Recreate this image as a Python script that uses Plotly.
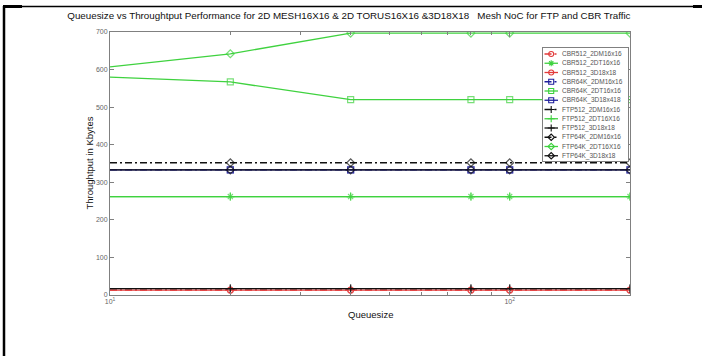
import math
import plotly.graph_objects as go

# Queue sizes (x axis, log scale)
queue = [10, 20, 40, 80, 100, 200]

# Throughput in Kbytes per configuration
cbr512_2dm16 = [13, 13, 13, 13, 13, 13]
cbr512_2dt16 = [262, 262, 262, 262, 262, 262]
cbr512_3d18 = [13, 13, 13, 13, 13, 13]
cbr64k_2dm16 = [333, 333, 333, 333, 333, 333]
cbr64k_2dt16 = [580, 567, 520, 520, 520, 520]
cbr64k_3d18 = [333, 333, 333, 333, 333, 333]
ftp512_2dm16 = [17, 17, 17, 17, 17, 17]
ftp512_2dt16 = [262, 262, 262, 262, 262, 262]
ftp512_3d18 = [17, 17, 17, 17, 17, 17]
ftp64k_2dm16 = [352, 352, 352, 352, 352, 352]
ftp64k_2dt16 = [607, 642, 697, 697, 697, 697]
ftp64k_3d18 = [333, 333, 333, 333, 333, 333]

labels = [
    "CBR512_2DM16x16", "CBR512_2DT16x16", "CBR512_3D18x18",
    "CBR64K_2DM16x16", "CBR64K_2DT16x16", "CBR64K_3D18x418",
    "FTP512_2DM16x16", "FTP512_2DT16X16", "FTP512_3D18x18",
    "FTP64K_2DM16x16", "FTP64K_2DT16X16", "FTP64K_3D18x18",
]
values = [
    cbr512_2dm16, cbr512_2dt16, cbr512_3d18,
    cbr64k_2dm16, cbr64k_2dt16, cbr64k_3d18,
    ftp512_2dm16, ftp512_2dt16, ftp512_3d18,
    ftp64k_2dm16, ftp64k_2dt16, ftp64k_3d18,
]

RED, GREEN, BLUE, BLACK = "#e23a3a", "#3fd23f", "#1f1f9c", "#111111"
DASHDOT = "7px,3px,2px,3px"
styles = [
    (RED, DASHDOT, "circle-open"),
    (GREEN, "solid", "asterisk-open"),
    (RED, "solid", "circle-open"),
    (BLUE, DASHDOT, "square-open"),
    (GREEN, "solid", "square-open"),
    (BLUE, "solid", "square-open"),
    (BLACK, DASHDOT, "cross-thin-open"),
    (GREEN, "solid", "cross-thin-open"),
    (BLACK, "solid", "cross-thin-open"),
    (BLACK, DASHDOT, "diamond-open"),
    (GREEN, "solid", "diamond-open"),
    (BLACK, "solid", "diamond-open"),
]

fig = go.Figure()

# markers sit on every point except the one on the left axis edge
marker_sizes = [0] + [6] * (len(queue) - 1)

for name, vals, (color, dash, sym) in zip(labels, values, styles):
    fig.add_trace(go.Scatter(
        x=queue, y=vals, name=name, mode="lines+markers",
        line=dict(color=color, width=1.3, dash=dash),
        marker=dict(symbol=sym, size=marker_sizes, color=color,
                    line=dict(color=color, width=1.2)),
        showlegend=False, xaxis="x", yaxis="y",
    ))

# Compact legend panel drawn on its own small axes
LEG_W, LEG_H, ROW = 85, 113, 9.25
for i, (name, (color, dash, sym)) in enumerate(zip(labels, styles)):
    ry = 6 + i * ROW
    fig.add_trace(go.Scatter(
        x=[1.5, 15], y=[ry, ry], mode="lines", showlegend=False,
        line=dict(color=color, width=1.3, dash=dash),
        xaxis="x2", yaxis="y2", hoverinfo="skip",
    ))
    fig.add_trace(go.Scatter(
        x=[8.2], y=[ry], mode="markers", showlegend=False,
        marker=dict(symbol=sym, size=5, color=color, line=dict(color=color, width=1.1)),
        xaxis="x2", yaxis="y2", hoverinfo="skip",
    ))
    fig.add_annotation(
        x=16.5, y=ry, xref="x2", yref="y2", text=name, showarrow=False,
        xanchor="left", yanchor="middle",
        font=dict(family="Arial, Liberation Sans", size=6.5, color="#555555"),
    )

# plot area in pixels: x 110..630, y 32..295
L, R, T, B = 110, 630, 32, 295
W, H = 702, 356
pw, ph = R - L, B - T


def px(xp):
    return (xp - L) / pw


def py(yp):
    return (B - yp) / ph


AX = "#808080"
fig.update_layout(
    width=W, height=H,
    margin=dict(l=L, r=W - R, t=T, b=H - B),
    paper_bgcolor="white", plot_bgcolor="white",
    font=dict(family="Arial, Liberation Sans", color="#111111"),
    title=dict(
        text="Queuesize vs Throughtput Performance for 2D MESH16X16 & 2D TORUS16X16 &3D18X18   Mesh NoC for FTP and CBR Traffic",
        x=0.497, xanchor="center", xref="container",
        y=1 - 16 / H, yanchor="middle", yref="container",
        font=dict(size=9.8, color="#111111"),
    ),
    xaxis=dict(
        type="log", range=[1, math.log10(200)],
        tickvals=[10, 100], ticktext=["10<sup>1</sup>", "10<sup>2</sup>"],
        ticks="inside", ticklen=5, tickcolor=AX,
        minor=dict(tickvals=[20, 30, 40, 50, 60, 70, 80, 90, 200],
                   ticks="inside", ticklen=3, tickcolor=AX),
        showline=True, linecolor=AX, linewidth=1, mirror="ticks",
        showgrid=False, zeroline=False,
        tickfont=dict(size=7, color="#666666"),
    ),
    yaxis=dict(
        range=[0, 700], tickmode="linear", tick0=0, dtick=100,
        ticks="inside", ticklen=4, tickcolor=AX,
        showline=True, linecolor=AX, linewidth=1, mirror="ticks",
        showgrid=False, zeroline=False,
        tickfont=dict(size=7, color="#666666"),
    ),
    xaxis2=dict(
        domain=[px(543), px(628)], range=[0, LEG_W], anchor="y2",
        showline=True, linecolor=AX, linewidth=1, mirror=True,
        showticklabels=False, ticks="", showgrid=False, zeroline=False,
        fixedrange=True,
    ),
    yaxis2=dict(
        domain=[py(161), py(48)], range=[LEG_H, 0], anchor="x2",
        showline=True, linecolor=AX, linewidth=1, mirror=True,
        showticklabels=False, ticks="", showgrid=False, zeroline=False,
        fixedrange=True,
    ),
)

# Axis titles
fig.add_annotation(
    x=px(89), y=0.5, xref="paper", yref="paper", text="Throughtput in Kbytes",
    textangle=-90, showarrow=False, xanchor="center", yanchor="middle",
    font=dict(size=9.5, color="#111111"),
)
fig.add_annotation(
    x=0.5, y=py(314), xref="paper", yref="paper", text="Queuesize",
    showarrow=False, xanchor="center", yanchor="middle",
    font=dict(size=9.5, color="#111111"),
)

# Page frame
frame = dict(type="line", xref="paper", yref="paper", line=dict(color="black"))
fig.add_shape(**frame, x0=px(4), x1=px(4), y0=py(6), y1=py(360), line_width=2.5)
fig.add_shape(**frame, x0=px(3), x1=px(702), y0=py(6.5), y1=py(6.5), line_width=1.5)
fig.add_shape(**frame, x0=px(3), x1=px(22), y0=py(6.5), y1=py(6.5), line_width=3)
fig.add_shape(**frame, x0=px(693), x1=px(702), y0=py(6.5), y1=py(6.5), line_width=3)

fig.write_html("out.html")
